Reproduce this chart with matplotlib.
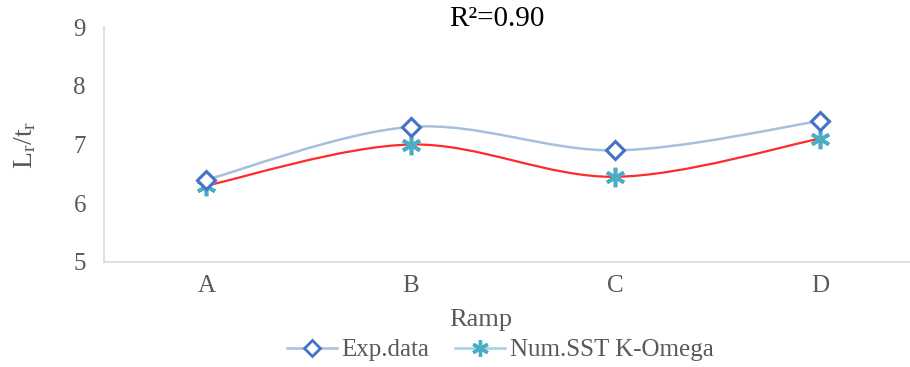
import matplotlib.pyplot as plt
import numpy as np
from matplotlib.path import Path
from matplotlib.patches import PathPatch
from matplotlib.lines import Line2D

plt.rcParams['font.family'] = ['Liberation Serif', 'DejaVu Serif']
plt.rcParams['mathtext.fontset'] = 'custom'
plt.rcParams['mathtext.rm'] = 'Liberation Serif'
plt.rcParams['mathtext.it'] = 'Liberation Serif:italic'

categories = ['A', 'B', 'C', 'D']
exp_data = [6.4, 7.3, 6.9, 7.4]
num_sst = [6.3, 7.0, 6.45, 7.1]

TEXT = '#595959'


def smooth_path(xs, ys):
    """Excel-like smoothed line through the points (cubic Bezier segments)"""
    pts = np.column_stack([xs, ys]).astype(float)
    n = len(pts)
    verts = [pts[0]]
    codes = [Path.MOVETO]
    for i in range(n - 1):
        p0 = pts[i - 1] if i > 0 else pts[i]
        p1 = pts[i]
        p2 = pts[i + 1]
        p3 = pts[i + 2] if i + 2 < n else pts[i + 1]
        c1 = p1 + (p2 - p0) / 6.0
        c2 = p2 - (p3 - p1) / 6.0
        verts += [c1, c2, p2]
        codes += [Path.CURVE4] * 3
    return Path(verts, codes)


fig = plt.figure(figsize=(9.1, 3.67), dpi=100)
ax = fig.add_axes([104 / 910, 105 / 367, 1 - 104 / 910, 235 / 367])

x = np.arange(len(categories))

ax.add_patch(PathPatch(smooth_path(x, exp_data), fill=False,
                       edgecolor='#A7BFDF', lw=1.8, zorder=2))
ax.add_patch(PathPatch(smooth_path(x, num_sst), fill=False,
                       edgecolor='#FF2A2A', lw=1.6, zorder=2))

ax.plot(x, exp_data, ls='none', marker='D', ms=9, mfc='white',
        mec='#4472C4', mew=2.2, zorder=4)
ax.plot(x, num_sst, ls='none', marker=(6, 2, 0), ms=14,
        mec='#4BACC6', mew=2.6, zorder=3)

ax.set_xlim(-0.5, 3.44)
ax.set_ylim(5, 9)
ax.set_yticks([5, 6, 7, 8, 9])
ax.set_xticks(x)
ax.set_xticklabels(categories)
ax.tick_params(axis='both', length=0, labelsize=18, colors=TEXT)
ax.tick_params(axis='x', pad=9)
ax.tick_params(axis='y', pad=13)

for s in ['top', 'right']:
    ax.spines[s].set_visible(False)
for s in ['left', 'bottom']:
    ax.spines[s].set_color('#D9D9D9')
    ax.spines[s].set_linewidth(1.2)

fig.text(25 / 910, 1 - 145 / 367, r'L$_\mathregular{r}$/t$_\mathregular{r}$',
         rotation=90, ha='center', va='center', fontsize=20, color=TEXT)
fig.text(481 / 910, 1 - 320 / 367, 'Ramp', ha='center', va='center',
         fontsize=19, color=TEXT)
fig.text(497 / 910, 1 - 19 / 367, 'R\u00b2=0.90', ha='center', va='center',
         fontsize=21, color='black')

handles = [
    Line2D([], [], color='#A7BFDF', lw=1.8, marker='D', ms=8, mfc='white',
           mec='#4472C4', mew=2),
    Line2D([], [], color='#9DD3E3', lw=1.8, marker=(6, 2, 0), ms=12,
           mec='#4BACC6', mew=2.4),
]
fig.legend(handles, ['Exp.data', 'Num.SST K-Omega'], loc='center',
           bbox_to_anchor=(500 / 910, 1 - 350 / 367), ncol=2, frameon=False,
           fontsize=18, labelcolor=TEXT, handlelength=2.0, handletextpad=0.2,
           columnspacing=1.0)

fig.savefig('out.png', dpi=100)
